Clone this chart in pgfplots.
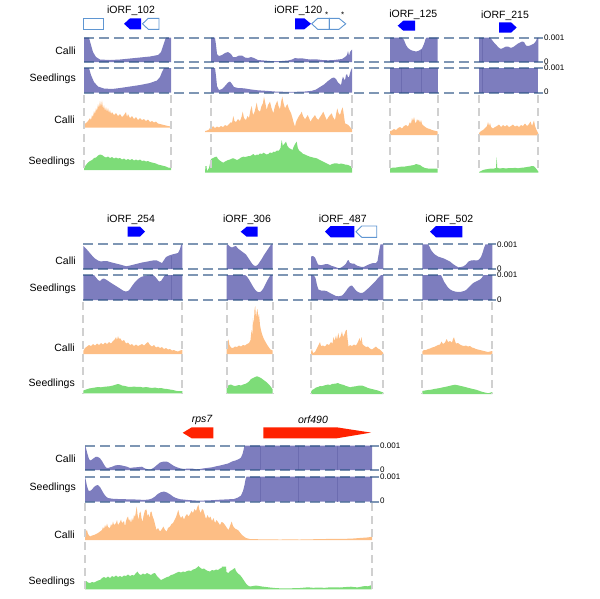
\documentclass[border=0pt]{standalone}
\usepackage{pgfplots}
\pgfplotsset{compat=1.18}
\usepackage{fontspec}
\setmainfont{Liberation Sans}
\definecolor{pur}{RGB}{125,125,190}
\definecolor{purline}{RGB}{108,108,176}
\definecolor{ora}{RGB}{253,190,133}
\definecolor{grn}{RGB}{125,220,120}
\definecolor{hd}{RGB}{40,80,130}
\definecolor{vg}{RGB}{208,208,208}
\definecolor{gblue}{RGB}{0,0,255}
\definecolor{oblue}{RGB}{95,150,210}
\definecolor{gred}{RGB}{255,34,0}
\newcommand\lbl{\fontsize{10.5}{12}\selectfont}
\newcommand\tk{\fontsize{8}{9}\selectfont}
\tikzset{
  hdash/.style={draw=hd, draw opacity=0.6, line width=2pt, dash pattern=on 10pt off 5pt},
  vdash/.style={draw=vg, line width=1.8pt, dash pattern=on 8pt off 5pt},
  segl/.style={draw=purline, line width=0.4pt},
  ob/.style={draw=oblue, line width=0.9pt, fill=white}
}
\begin{document}
\begin{tikzpicture}
\path[use as bounding box] (0,0) rectangle (600pt,-598pt);
\begin{axis}[at={(0,0)}, anchor=north west, scale only axis, width=600pt, height=598pt,
  xmin=0, xmax=600, ymin=0, ymax=598, y dir=reverse, hide axis, clip=false, enlargelimits=false]

% ================= ROW 1 : purple tracks =================
\addplot[fill=pur, draw=none] coordinates {(84,62.2) (84,37.7) (89,37.7) (91,45) (93,52) (96,57) (100,59.5) (110,60) (120,59.5) (130,58.5) (140,57.5) (150,56.5) (158,55) (161,52) (163,46) (165,40) (166,37.7) (171,37.7) (171,62.2)};
\addplot[fill=pur, draw=none] coordinates {(84,92.5) (84,68) (89,68) (91,75) (94,82) (98,86.5) (104,88.5) (112,89) (120,88) (130,86.5) (140,85) (150,83) (157,80.5) (160,77) (162,72) (164,68) (171,68) (171,92.5)};
\addplot[fill=pur, draw=none] coordinates {(211,62.2) (211,37.7) (215,37.7) (216,45) (217,54) (219,56) (222,55) (225,53) (228,52) (231,54) (233,57) (236,57) (239,55.5) (242,55.5) (245,57.5) (248,58) (251,57) (254,58) (258,60) (264,60.5) (270,61) (276,61.2) (282,61) (288,60.5) (292,59.5) (295,58) (298,58.5) (302,58.3) (306,59) (310,59.5) (316,59.3) (322,60) (328,60.3) (334,60) (338,59.5) (342,59) (345,57) (347,55) (348,51) (349,56) (350,52) (352,49.5) (352,62.2)};
\addplot[fill=pur, draw=none] coordinates {(211,92.5) (211,68) (215,68) (216,76) (217,86) (219,90) (222,89) (225,86) (228,82.5) (230,81.5) (232,84) (234,87) (238,88) (244,88.3) (250,89.3) (258,90.3) (266,90.8) (275,91.5) (285,91.8) (295,91.8) (305,91.5) (312,90.8) (316,89.5) (320,87) (324,84.5) (328,81) (332,78) (334,77.5) (336,79) (338,82.5) (341,85) (342,80) (343,76.5) (344,79) (345,80) (346,75) (347,74) (348,77) (349,77) (350,73) (351,70) (352,68) (352,92.5)};
\addplot[fill=pur, draw=none] coordinates {(390,62.2) (390,37.7) (402,37.7) (404,40) (406,45) (408,48) (410,49.5) (412,50.5) (414,51) (416,51.5) (418,51) (420,50) (422,48.5) (424,44) (425.5,39) (426.5,37.7) (437.7,37.7) (437.7,62.2)};
\addplot[fill=pur, draw=none] coordinates {(390,92.5) (390,68) (437.7,68) (437.7,92.5)};
\addplot[fill=pur, draw=none] coordinates {(479,62.2) (479,37.7) (490,37.7) (492,40) (494,42.5) (496,44.5) (498,47) (500,48.5) (502,48.5) (504,47.5) (506,46.5) (508,46.5) (510,47.5) (512,47.5) (514,46.5) (516,45) (518,43.5) (520,42.5) (522,41.5) (524,42) (526,45.5) (528,46) (530,45.5) (532,44.5) (534,43.5) (536,41) (537,38) (538.3,37.7) (538.3,62.2)};
\addplot[fill=pur, draw=none] coordinates {(479,92.5) (479,68) (538.3,68) (538.3,92.5)};

% ================= ROW 1 : orange =================
\addplot[fill=ora, draw=none] coordinates {(84,127.5) (84,124.5) (86,123) (88,121) (90,118) (91,120) (92,115) (93,117) (94,111) (95,114) (96,108) (97,111) (98,104) (99,108) (100,101) (101,107) (102,100.5) (103,109) (104,105) (105,111) (106,107) (107,112) (108,108) (109,113) (110,110) (111,114) (112,112) (114,115) (116,113) (118,116) (120,114) (122,117) (124,115) (126,112) (127,117) (128,114) (130,118) (132,116) (134,119) (136,117) (138,120) (140,118) (142,120) (144,119) (146,121) (148,119.5) (150,122) (152,121) (154,122.5) (156,121.5) (158,123.5) (160,124) (162,124.5) (164,125) (166,125.5) (168,126) (171,126.5) (171,127.5)};
\addplot[fill=ora, draw=none] coordinates {(205,132) (205,131) (207,130.5) (209,129.5) (211,126) (212,127.5) (213,126) (215,128) (217,126.5) (219,127.5) (221,126) (223,127) (225,125) (227,126) (229,124) (231,122) (232,123) (233.3,116) (234.5,121) (236,122) (238,119) (240,121) (241.5,117) (242.7,111.7) (244,118) (246,120) (247.5,116) (249,118) (250.5,110) (251.7,106) (253,115) (254.5,112) (255.5,108) (256.7,102.7) (258,110) (260,111.7) (261.5,106) (263,103) (264,96.7) (265.5,104) (266.7,110) (268,105) (270,101.7) (271.5,108) (273.3,113.3) (275,106) (277.3,100.7) (278.5,106) (280,109.3) (281.3,101) (282.3,96.7) (283.5,103) (285,108.3) (286.2,106) (287.3,104) (289,109) (291,113) (292.5,118) (293.5,122) (295,126.7) (296,122) (297.3,119.3) (299,116) (300.5,114) (301.7,111.7) (303,116) (305,119.3) (306.5,117) (307.7,115) (309,118) (310.5,121.7) (312,119) (313.5,117) (315,115) (316.5,118) (318.3,120) (320,117) (322,114) (323.3,111.7) (325,116) (326.7,120) (328.5,117) (330,115) (331.7,113.3) (333,117) (335,120) (336.3,113) (337.3,108.3) (338.5,113) (340,115) (341.5,110) (342.7,107.3) (344,116) (345,123.3) (346.5,124) (348.3,125) (350,127) (352,129) (352,132)};
\addplot[fill=ora, draw=none] coordinates {(390,135) (390,131) (392,130.5) (394,129) (396,130) (398,128) (400,127) (402,128.5) (404,126) (406,125) (408,126.5) (410,122) (411,124) (412,118) (413,121) (414,117) (415,122) (416,123) (417,119) (418,121) (419,119.5) (420,123) (421,120) (422,124) (424,126) (426,127.5) (428,128.5) (430,129) (432,130) (434,130.5) (436,131) (437.7,131.5) (437.7,135)};
\addplot[fill=ora, draw=none] coordinates {(479,135.3) (479,133) (481,131) (483,130) (485,128) (487,126) (488,122) (489,126) (490,123) (491,127) (493,128.5) (495,127) (497,126) (499,124.5) (501,127) (503,125) (505,126.5) (507,125) (509,127) (511,126) (513,124.5) (515,126.5) (517,125.5) (519,127) (521,125) (523,126) (525,123.5) (527,126) (529,124) (530.5,121.5) (532,126) (534,120.5) (535,126) (536.5,130) (538.3,133.5) (538.3,135.3)};

% ================= ROW 1 : green =================
\addplot[fill=grn, draw=none] coordinates {(84,170) (84,167) (86,165) (88,162.5) (90,161) (92,160) (94,158) (96,157.5) (98,155.5) (100,154.5) (102,155) (104,156.5) (106,157.5) (108,156.5) (110,158) (112,157) (114,158.5) (116,157.5) (118,158.5) (120,158) (122,159.5) (124,158.5) (126,160) (128,159) (130,160) (132,159) (134,160.5) (136,159.5) (138,160.5) (140,159.5) (142,161) (144,160.5) (146,161.5) (148,161) (150,162) (152,162.5) (154,163) (156,163.5) (158,164.5) (160,165) (162,165.5) (164,166) (166,166.5) (168,167.5) (171,168) (171,170)};
\addplot[fill=grn, draw=none] coordinates {(205,172.5) (205.5,166) (206.5,166) (207,171) (209,168) (211,159) (213,158) (215,157) (216.7,156.7) (218,159) (220,160.7) (222,162) (223.3,162.7) (225,161.5) (227,160.5) (228.3,160) (230,159.5) (232,158.5) (233.3,158.3) (235,159) (237,160) (239,159) (241,157.5) (243.3,156.7) (245,157) (247,156.5) (249,156) (250,156) (252,155) (253.3,154) (255,155.5) (257,154.5) (258.3,155) (260,153.5) (262,154) (263.3,152.7) (265,153.5) (266.5,154.5) (268.3,154) (270,152.5) (272,153) (273.3,151.7) (275,152) (277,150.5) (279,150.5) (280.5,148) (281.7,140) (282.8,146) (283.3,145) (285,143) (286,141.7) (287.5,146) (289.3,148.3) (291,149) (292.5,150) (293.5,147) (295,144) (296.7,141.7) (297.8,148) (299.3,150.7) (301,152) (303.3,154) (305,154.5) (307,155.5) (310,156.7) (313,157.5) (316.7,158.3) (319,159.5) (321,160.5) (323.3,161.7) (325,162.5) (327,163.5) (330,165) (332,164) (334,163.5) (336.7,163.3) (339,164) (341,163.5) (343.3,164) (345,164.5) (348.3,165) (350,166) (352,166.7) (352,172.5)};
\addplot[fill=grn, draw=none] coordinates {(390,172.7) (390,168.5) (393,167.5) (396,167.5) (399,167) (402,166.5) (405,166.5) (408,166) (411,165.5) (414,165) (416,164) (418,164.5) (420,165) (422,166.5) (425,168) (428,168.5) (431,168.5) (434,168.5) (437.7,168.5) (437.7,172.7)};
\addplot[fill=grn, draw=none] coordinates {(479,172.7) (479,172) (481,171) (483,170) (485,169.5) (488,169) (491,168.5) (494,168.5) (496,168) (496.7,157) (497.3,168) (500,168.5) (503,168) (506,168.5) (509,168) (512,168.2) (515,167.8) (518,168.3) (521,167.8) (524,167.5) (527,167) (530,166.5) (532,166) (534,166.3) (536,168.5) (538.3,171.5) (538.3,172.7)};

% ================= ROW 2 : purple =================
\addplot[fill=pur, draw=none] coordinates {(83.3,269) (83.3,246) (86,248.5) (89,252) (92,255.5) (95,258.5) (98,260.5) (101,261.5) (104,261) (107,261) (110,262) (114,263) (118,264) (122,265) (126,266.3) (130,265.5) (134,264.5) (138,263.5) (142,262.5) (146,261.8) (150,261) (154,260.3) (157,260.5) (160,262) (162,263) (164,260) (166,257) (169,255.5) (172,254.5) (175,253.8) (178,253) (180,249) (181,245) (182.3,244.3) (182.3,269)};
\addplot[fill=pur, draw=none] coordinates {(83.3,300) (83.3,275) (94,275) (96,277.5) (98,280) (100,281) (102,279) (104,278.5) (106,279.5) (109,281.5) (112,283.5) (116,286) (120,288.5) (123,290.5) (125.5,291.5) (128,291) (130,289) (132,286) (135,282) (138,279) (141,277) (144,276) (147,275.5) (153,275) (155,276.5) (157,279) (159,281.5) (161,281) (163,278) (165,275) (182.3,275) (182.3,300)};
\addplot[fill=pur, draw=none] coordinates {(226.7,269) (226.7,245.5) (228,244.5) (230,246.5) (232,247.5) (234,246.5) (236,246) (238,248.5) (240,250) (242,251.5) (244,253) (246,254.5) (248,257.5) (250,260.5) (252,263.5) (254,265.5) (256,266) (258,264.5) (260,261.5) (262,258.5) (264,255) (266,252) (268,249) (270,246) (271.5,244.3) (272.7,244.3) (272.7,269)};
\addplot[fill=pur, draw=none] coordinates {(226.7,300) (226.7,275) (245,275) (247,276.5) (249,279.5) (251,283) (253,286.5) (255,289.5) (257,291.5) (259,292.3) (261,291.5) (263,289) (265,285) (267,281) (269,277.5) (270.5,275) (272.7,275) (272.7,300)};
\addplot[fill=pur, draw=none] coordinates {(311,269) (311,256.5) (313,256) (315,257.5) (316.5,261) (318,264.5) (320,265) (322,265) (324,264.5) (326,264) (328,264.2) (330,265) (332,266) (334,266.5) (336,267.3) (338,268) (340,268) (342,267) (344,265.5) (346,263.5) (347.5,260.5) (348.5,260) (350,263) (352,263.5) (354,263.5) (356,265) (358,266) (360,266.5) (362,267) (364,266.8) (366,265.8) (368,264.8) (370,264) (372,263.3) (374,263) (376,263) (377.5,261) (378.5,255) (379.5,249) (380.5,244.3) (383.3,244.3) (383.3,269)};
\addplot[fill=pur, draw=none] coordinates {(311,300) (311,275) (314,275.5) (315.5,278) (317,285) (318.5,289.5) (321,290.5) (324,290.5) (327,291.3) (330,293) (333,294.5) (336,296) (339,296.3) (342,295.5) (344,293.5) (346,291) (348,288) (350,286) (352,285.5) (354,288) (356,290.5) (358,292) (360,292.8) (362,293) (364,292) (366,290.3) (368,288.5) (370,286.5) (372,284.5) (374,282.5) (376,280.5) (378,278) (380,276) (381,275) (383.3,275) (383.3,300)};
\addplot[fill=pur, draw=none] coordinates {(422.3,269) (422.3,244.3) (428,244.3) (429.5,246.5) (431,250) (433,252.5) (435,254.5) (438,256.5) (441,257.5) (444,258.5) (447,260) (450,261.5) (453,264) (456,266) (458.5,267.3) (461,267) (463.5,266.3) (466,264.5) (468.5,261.5) (471,260.5) (474,260.2) (477,260.5) (479,259.5) (481,257) (482.5,253) (484,248) (485.5,244.3) (492.3,244.3) (492.3,269)};
\addplot[fill=pur, draw=none] coordinates {(422.3,300) (422.3,275) (441,275) (442.5,278) (444,281.5) (446,284.5) (448,287.5) (450,289.3) (452,290.5) (455,291.5) (458,292) (461,291.8) (464,291) (466,290) (468,288) (470,286) (472,284) (474,282.5) (477,281) (480,279.5) (482,277.5) (483.5,275) (492.3,275) (492.3,300)};

% ================= ROW 2 : orange =================
\addplot[fill=ora, draw=none] coordinates {(83.3,354) (83.3,351) (85,348) (87,346.5) (89,345) (91,346) (93,344) (95,345.5) (97,343.5) (99,345) (101,343) (103,344.5) (105,342.5) (107,344) (109,342) (111,343.5) (113,341) (115,339) (116,337) (117,340) (118,336) (119,339) (120,338) (122,341) (124,340) (126,343.5) (128,342.5) (130,345) (132,344) (134,346) (136,344.5) (138,346) (140,345) (142,344) (144,345.5) (146,343.5) (148,342) (150,345) (152,346.5) (154,345) (156,347.5) (158,346.5) (160,348) (162,347) (164,349) (166,348) (168,349.5) (170,349) (172,350.5) (174,350) (176,351) (178,351.5) (180,350.5) (182.3,350) (182.3,354)};
\addplot[fill=ora, draw=none] coordinates {(226.7,354) (226.7,347) (227.5,341) (228.5,339.5) (229.5,345) (231,347.5) (233,348) (235,346.5) (237,347) (239,345.5) (241,346.5) (243,345) (245,345.5) (247,344) (249,343) (250.5,340) (251.5,330) (252.3,336) (253,318) (253.8,325) (254.5,310) (255.2,306) (256,318) (256.7,312) (257.5,309) (258.3,318) (259,314) (260,325) (261,330) (262,334) (263.5,338) (265,341) (267,344.5) (269,347.5) (270.5,349.5) (272.7,350.5) (272.7,354)};
\addplot[fill=ora, draw=none] coordinates {(311,355) (311,352) (312,349) (313,353) (315,352) (317,348) (318.5,345) (320,342) (321,346) (323,345.5) (325,346.5) (327,344) (329,345) (331,342) (332.5,343.5) (333.5,337) (334.5,341) (336,335.5) (337,340) (338.3,333) (339.5,339) (341,335) (342,331.5) (343,337) (344.5,334) (345.5,331) (346.7,329.5) (347.5,338) (348.5,346.5) (350,345) (352,346) (354,344.5) (356,345.5) (358,342) (359.5,338) (360.5,342) (361.5,337) (362.5,344) (364,345.5) (366,347) (368,346.5) (370,348.5) (372,349.5) (374,348) (376,346.5) (378,348.5) (380,349.5) (381.5,351) (383.3,353) (383.3,355)};
\addplot[fill=ora, draw=none] coordinates {(422.3,354.5) (422.3,351.5) (424,350) (426,350) (428,349) (430,348.5) (432,347.5) (434,347) (436,346) (438,345) (440,344.5) (441.5,341.5) (443,344) (445,342.5) (446.7,339) (448,342) (450,341) (452,342.5) (453,339) (454,337.3) (455,341) (456,343.5) (458,343) (460,344.5) (462,345.5) (464,346) (466,345.5) (468,346.5) (470,346) (472,347.5) (474,348) (476,349) (478,349.5) (480,350) (482,350.5) (484,351) (486,351.5) (488,352) (490,351.5) (492.3,351) (492.3,354.5)};

% ================= ROW 2 : green =================
\addplot[fill=grn, draw=none] coordinates {(83.3,393.3) (83.3,390.5) (86,389.5) (89,388.5) (92,388) (95,387.5) (98,387) (101,387.3) (104,386.8) (107,386.5) (110,386.2) (113,385.5) (116,384.5) (118,384) (120,384.5) (122,385.5) (125,386) (128,386.8) (131,387) (134,386.5) (137,387) (140,386.8) (143,387.5) (146,387) (149,387.5) (152,388) (155,387.5) (158,388.3) (161,388) (164,388.7) (167,389) (170,389.5) (173,390) (176,390.8) (179,391.2) (182.3,391) (182.3,393.3)};
\addplot[fill=grn, draw=none] coordinates {(226.7,393.5) (226.7,387) (229,385) (231,384.5) (233,385.5) (235,386) (237,385.5) (239,385) (241,385.5) (243,384.5) (245,384) (247,383) (249,381.5) (251,379) (253,378) (255,377) (257,376.3) (259,377) (261,378) (263,379.5) (265,381) (267,382.5) (269,384.5) (271,387) (272.7,389.5) (272.7,393.5)};
\addplot[fill=grn, draw=none] coordinates {(311,394) (311,392) (312,390) (314,389) (316,387.5) (318,387) (320,386) (322,386.3) (324,385.5) (326,385) (328,384.5) (330,385) (332,384) (334,383.8) (336,383.5) (338,383) (340,384) (342,384.5) (344,385) (346,386) (348,386.5) (350,387.3) (352,386.8) (354,386.5) (356,386.2) (358,385.8) (360,385.5) (362,385.5) (364,386.3) (366,387) (368,388) (370,388.5) (372,389) (374,389.5) (376,390) (378,390.5) (380,391.3) (383.3,392.5) (383.3,394)};
\addplot[fill=grn, draw=none] coordinates {(422.3,394) (422.3,391) (425,390.5) (428,390) (431,389.7) (434,389) (437,388.5) (440,388) (443,387.3) (446,386.7) (449,386) (452,385.3) (455,384.7) (458,385.3) (461,386) (464,386.7) (467,387.5) (470,388.3) (473,389) (476,389.7) (479,390.7) (482,391.8) (485,392.5) (488,393.2) (490,392.8) (492.3,392) (492.3,394)};

% ================= ROW 3 : purple =================
\addplot[fill=pur, draw=none] coordinates {(85,470) (85,445.7) (86,448) (87.5,454) (89,459) (90.5,460.5) (92,459.5) (94,458) (96,456.7) (98,457) (100,458.3) (102,461) (104,464.5) (106,467.5) (108,468) (110,467.3) (112,466.8) (115,465.5) (118,465) (121,465.3) (124,466) (127,466.7) (130,468) (133,467.5) (136,467.3) (139,467) (142,466.7) (145,468.5) (148,469.3) (151,469.3) (154,467.5) (157,465) (160,462.5) (163,461.7) (166,461.5) (168,462) (171,464) (174,466) (177,467.3) (180,468.3) (184,469) (188,468.5) (192,468.5) (196,469.3) (200,469) (204,468.3) (208,467.8) (212,467.3) (216,466.3) (220,465.5) (224,464.5) (228,463.5) (232,461.5) (236,460.3) (239,459) (241,457.5) (242.5,454) (243.5,450) (244.5,445.7) (372,445.7) (372,470)};
\addplot[fill=pur, draw=none] coordinates {(85,501.7) (85,476.7) (86,481) (87,486) (88.5,490.5) (90,491) (92,489.5) (94,487) (96,485.5) (98,485) (100,487) (102,490.5) (104,494) (106,496.5) (108,498) (112,498.7) (118,499) (124,499.2) (130,499.3) (136,499.5) (142,499.8) (148,499.7) (152,498.5) (155,496.5) (158,493.8) (161,492.2) (164,491.5) (167,492.5) (170,494.3) (173,496.5) (176,498) (180,499.2) (188,500) (196,500.5) (204,500.5) (212,500.2) (220,499.7) (228,499.3) (234,499) (238,497.5) (241,495.5) (243,491) (244.5,485) (245.5,479.5) (246.5,476.7) (372,476.7) (372,501.7)};

% ================= ROW 3 : orange =================
\addplot[fill=ora, draw=none] coordinates {(85,540) (85,535) (86,531) (87,530) (88,534) (90,536.5) (92,535.5) (94,535) (96,534) (98,533) (100,531.5) (102,530) (103,527) (104,529) (105,525) (106,527.5) (107,523.5) (108,527) (110,528) (111,524) (112,526) (113,521.5) (114,525) (116,523) (117,520) (118,525) (120,522) (121,519.5) (122,523) (124,521) (125,526.5) (126,521) (127,518) (128,516.5) (129,521) (130,519) (131,523) (132,518) (133,521) (134,515) (135,517) (136,511) (136.7,506.5) (137.5,514) (138.5,520) (139.5,513) (140.5,511.5) (141.5,518) (142.5,522) (143.5,516) (145,510) (146.5,509.5) (147.5,516) (148.5,514) (149.5,518) (150.5,512) (151.5,511.5) (152.5,516) (154,520) (155,524) (156.5,530) (158,528) (160,531.5) (162,529) (163.3,526.5) (165,530) (166.7,531.5) (168,528) (170,526.5) (171.5,524) (173,523) (174.5,520) (176,517) (177,514) (178.3,510) (179.5,515) (181,518) (182.5,516) (184,519.5) (185.5,516) (187,514) (188.5,516.5) (190,514) (191.5,511) (193,513) (194.5,509) (196,511) (197,508) (198.3,504.5) (199.5,510) (200.7,513) (202,509) (203.3,510) (204.5,514) (206,519) (207.5,515) (209,518) (210.5,516.5) (212,521) (213.5,518) (215,523) (216.5,520) (218,522) (220,525) (221.5,522) (223,522.5) (225,525) (227,528) (228.5,530) (230,526) (231.7,521.5) (233,526) (235,528.5) (237,529.5) (238.5,530.5) (240,532.5) (242,535) (244,536.5) (246,538) (250,539) (260,539.3) (270,539.4) (280,539.5) (290,539.4) (300,539.5) (308,539.3) (316,539.2) (325,539) (335,538.8) (345,538.8) (352,538.6) (357,538.2) (362,537.8) (366,537.6) (369,537.2) (372,536.7) (372,540)};

% ================= ROW 3 : green =================
\addplot[fill=grn, draw=none] coordinates {(85,589.3) (85,583) (86.5,581) (88,582.5) (90,583) (92,582) (94,582.5) (96,581.5) (98,580.5) (100,580) (102,578) (104,577) (106,578) (108,576.5) (110,578) (112,576) (114,577) (116,575.5) (118,577) (120,576) (122,577) (124,575.5) (126,576) (128,574.5) (130,576) (132,575) (134,575.5) (136,573) (137.5,571.5) (139,574) (141,575) (143,573.5) (145,574.5) (147,573) (149,574) (151,575) (153,573.5) (155,573) (157,576) (159,578) (161,580) (163,579) (165,578) (167,577) (169,576.5) (171,575) (173,574.5) (175,573.5) (177,572.5) (179,571.8) (181,572.5) (183,571.5) (185,572) (187,571) (189,570.5) (191,571) (193,569.5) (195,569) (197,567.5) (198.5,566) (200,567.5) (202,569) (204,568.5) (206,570) (208,571) (210,571.5) (212,570) (214,570.5) (216,569.5) (218,570) (220,568.5) (221.5,568) (222,566.5) (226,566.5) (226.5,572) (228.5,573) (230,571) (232,570) (234,568.5) (235,568) (236,571) (238,573.5) (240,575) (242,577.5) (244,580.5) (246,583.5) (248,585.5) (250,586.5) (253,586) (256,585.5) (259,586) (262,586.5) (266,587) (270,587.5) (275,588) (280,588.3) (290,588.3) (300,588) (308,587.3) (313,587.8) (318,587.6) (325,587.8) (330,587.3) (335,587.3) (340,587.5) (346,587) (351,586.7) (355,587.2) (358,587.3) (362,586.5) (365,586) (368,586.3) (371.7,585) (371.7,589.3)};

% ---- thin segment lines inside purple
\draw[segl] (401,68) -- (401,92.5) (421,50) -- (421,62.2) (421,68) -- (421,92.5);
\draw[segl] (481.7,37.7) -- (481.7,62.2) (481.7,68) -- (481.7,92.5);
\draw[segl] (170.7,255.5) -- (170.7,269) (170.7,275) -- (170.7,300);
\draw[segl] (260,445.7) -- (260,470) (260,476.7) -- (260,501.7);
\draw[segl] (297.7,445.7) -- (297.7,470) (297.7,476.7) -- (297.7,501.7);
\draw[segl] (336.7,445.7) -- (336.7,470) (336.7,476.7) -- (336.7,501.7);

% ---- horizontal dashed reference lines
\draw[hdash] (84,37.7) -- (543,37.7);
\draw[hdash] (84,62.2) -- (543,62.2);
\draw[hdash] (84,68) -- (543,68);
\draw[hdash] (84,92.5) -- (543,92.5);
\draw[hdash] (83.3,244.3) -- (496,244.3);
\draw[hdash] (83.3,269) -- (496,269);
\draw[hdash] (83.3,275) -- (496,275);
\draw[hdash] (83.3,300) -- (496,300);
\draw[hdash] (85,445.7) -- (379,445.7);
\draw[hdash] (85,470) -- (379,470);
\draw[hdash] (85,476.7) -- (379,476.7);
\draw[hdash] (85,501.7) -- (379,501.7);

% ---- vertical grey dashed panel edges
\draw[vdash] (84,95) -- (84,172);
\draw[vdash] (171,95) -- (171,172);
\draw[vdash] (211,95) -- (211,172);
\draw[vdash] (352,95) -- (352,172);
\draw[vdash] (390,95) -- (390,172);
\draw[vdash] (437.7,95) -- (437.7,172);
\draw[vdash] (479,95) -- (479,172);
\draw[vdash] (538.3,95) -- (538.3,172);
\draw[vdash] (83.3,302) -- (83.3,394);
\draw[vdash] (182.3,302) -- (182.3,394);
\draw[vdash] (226.7,302) -- (226.7,394);
\draw[vdash] (272.7,302) -- (272.7,394);
\draw[vdash] (311,302) -- (311,394);
\draw[vdash] (383.3,302) -- (383.3,394);
\draw[vdash] (422.3,302) -- (422.3,394);
\draw[vdash] (492.3,302) -- (492.3,394);
\draw[vdash] (85,503) -- (85,590);
\draw[vdash] (372,503) -- (372,590);

% ---- tick labels
\node[anchor=west, font=\tk, inner sep=1pt] at (543,37.7) {0.001};
\node[anchor=west, font=\tk, inner sep=1pt] at (543,61.5) {0};
\node[anchor=west, font=\tk, inner sep=1pt] at (543,68) {0.001};
\node[anchor=west, font=\tk, inner sep=1pt] at (543,92) {0};
\node[anchor=west, font=\tk, inner sep=1pt] at (496,244.3) {0.001};
\node[anchor=west, font=\tk, inner sep=1pt] at (496,268.5) {0};
\node[anchor=west, font=\tk, inner sep=1pt] at (496,275) {0.001};
\node[anchor=west, font=\tk, inner sep=1pt] at (496,299.5) {0};
\node[anchor=west, font=\tk, inner sep=1pt] at (379,445.7) {0.001};
\node[anchor=west, font=\tk, inner sep=1pt] at (379,469.5) {0};
\node[anchor=west, font=\tk, inner sep=1pt] at (379,476.3) {0.001};
\node[anchor=west, font=\tk, inner sep=1pt] at (379,501) {0};

% ---- row labels
\node[anchor=east, font=\lbl, inner sep=0pt] at (76,51) {Calli};
\node[anchor=east, font=\lbl, inner sep=0pt] at (76,79) {Seedlings};
\node[anchor=east, font=\lbl, inner sep=0pt] at (75,120) {Calli};
\node[anchor=east, font=\lbl, inner sep=0pt] at (75,161.7) {Seedlings};
\node[anchor=east, font=\lbl, inner sep=0pt] at (76,260.7) {Calli};
\node[anchor=east, font=\lbl, inner sep=0pt] at (76,288.3) {Seedlings};
\node[anchor=east, font=\lbl, inner sep=0pt] at (75,347.3) {Calli};
\node[anchor=east, font=\lbl, inner sep=0pt] at (75,384) {Seedlings};
\node[anchor=east, font=\lbl, inner sep=0pt] at (76,458.3) {Calli};
\node[anchor=east, font=\lbl, inner sep=0pt] at (76,487.3) {Seedlings};
\node[anchor=east, font=\lbl, inner sep=0pt] at (75,535) {Calli};
\node[anchor=east, font=\lbl, inner sep=0pt] at (75,581.7) {Seedlings};

% ---- gene labels
\node[font=\lbl] at (131,11) {iORF\_102};
\node[font=\lbl] at (298.3,11) {iORF\_120};
\node[font=\lbl] at (413.3,15) {iORF\_125};
\node[font=\lbl] at (505,16) {iORF\_215};
\node[font=\lbl] at (131,220) {iORF\_254};
\node[font=\lbl] at (247,220) {iORF\_306};
\node[font=\lbl] at (342.7,219.3) {iORF\_487};
\node[font=\lbl] at (449.3,219.3) {iORF\_502};
\node[font=\lbl\itshape] at (202,420) {rps7};
\node[font=\lbl\itshape] at (313,420) {orf490};
\node[font=\fontsize{8}{9}\selectfont] at (326.7,15) {*};
\node[font=\fontsize{8}{9}\selectfont] at (342.7,15) {*};

% ---- gene shapes
\draw[ob] (83.5,18.3) rectangle (103,29.3);
\fill[gblue] (124,23.8) -- (130,18.3) -- (141,18.3) -- (141,29.3) -- (130,29.3) -- cycle;
\draw[ob] (142.5,23.8) -- (148.3,18.3) -- (159,18.3) -- (159,29.3) -- (148.3,29.3) -- cycle;
\fill[gblue] (295,18.3) -- (304.3,18.3) -- (311,23.8) -- (304.3,29.3) -- (295,29.3) -- cycle;
\draw[ob] (311.7,23.8) -- (317.7,18.3) -- (329.3,18.3) -- (329.3,29.3) -- (317.7,29.3) -- cycle;
\draw[ob] (329.3,18.3) -- (339,18.3) -- (345.7,23.8) -- (339,29.3) -- (329.3,29.3) -- cycle;
\fill[gblue] (397.7,25.7) -- (403.3,20.7) -- (415,20.7) -- (415,30.7) -- (403.3,30.7) -- cycle;
\fill[gblue] (499,22.3) -- (511,22.3) -- (516.7,27.5) -- (511,32.7) -- (499,32.7) -- cycle;
\fill[gblue] (127.7,226.7) -- (140,226.7) -- (145,231.7) -- (140,236.7) -- (127.7,236.7) -- cycle;
\fill[gblue] (240.7,231.7) -- (246.7,226.7) -- (257.7,226.7) -- (257.7,236.7) -- (246.7,236.7) -- cycle;
\fill[gblue] (325,231.7) -- (330.7,226) -- (354.3,226) -- (354.3,237.3) -- (330.7,237.3) -- cycle;
\draw[ob] (356,231.7) -- (361.7,226) -- (376.7,226) -- (376.7,237.3) -- (361.7,237.3) -- cycle;
\fill[gblue] (430,231.7) -- (436,226) -- (462.3,226) -- (462.3,237.3) -- (436,237.3) -- cycle;
\fill[gred] (182.7,432.8) -- (191.7,427.3) -- (213.3,427.3) -- (213.3,438.3) -- (191.7,438.3) -- cycle;
\fill[gred] (263.3,427.3) -- (336.7,427.3) -- (371,432.6) -- (336.7,438.3) -- (263.3,438.3) -- cycle;

\end{axis}
\end{tikzpicture}
\end{document}
